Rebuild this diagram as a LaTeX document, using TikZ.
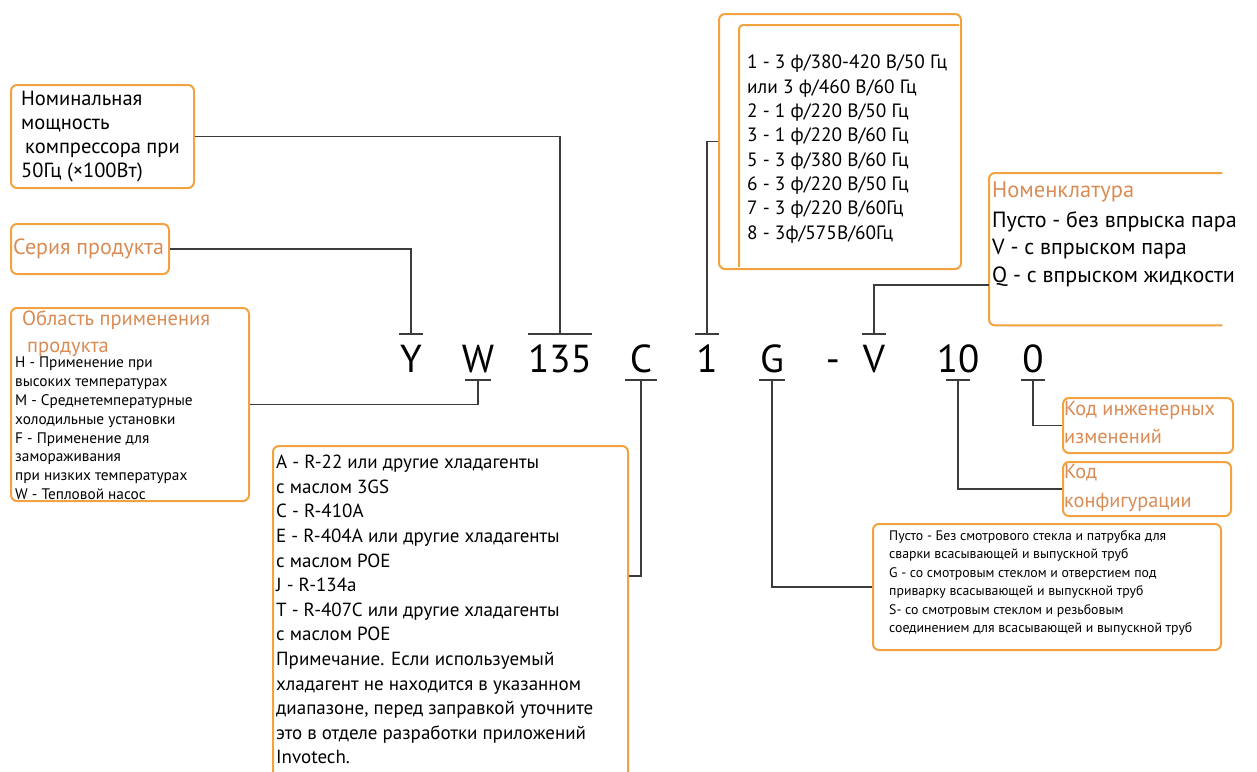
\documentclass[tikz,border=0pt]{standalone}
\usepackage{fontspec}
\setmainfont{PT Sans}
\usetikzlibrary{calc}
\definecolor{boxorange}{HTML}{F2A33F}
\definecolor{titleorange}{HTML}{D98C55}
\definecolor{wirecol}{HTML}{3C3C3C}
\begin{document}
\begin{tikzpicture}[x=1pt,y=-1pt,
  frame/.style={draw=boxorange, line width=2pt, rounded corners=6pt, fill=white, anchor=north west, inner sep=0pt},
  txt/.style={anchor=north west, inner sep=0pt, align=left},
  code/.style={font=\fontsize{39}{39}\selectfont, anchor=base, inner sep=0pt},
  wire/.style={draw=wirecol, line width=1.4pt},
  tickmark/.style={draw=wirecol, line width=1.6pt}]
\useasboundingbox (0,0) rectangle (1257,771);
\clip (0,0) rectangle (1257,771);

% the model code
\node[code] (cY) at (411,372) {Y};
\node[code] (cW) at (478,372) {W};
\node[code] (c135) at (560,372) {135};
\node[code] (cC) at (641,372) {C};
\node[code] (c1) at (707,372) {1};
\node[code] (cG) at (772,372) {G};
\node[code] (cdash) at (833,372) {-};
\node[code] (cV) at (874,372) {V};
\node[code] (c10) at (958,372) {10};
\node[code] (c0) at (1033,372) {0};

\coordinate (tY) at (cY |- 0,334);
\coordinate (t135) at (c135 |- 0,334);
\coordinate (t1) at (c1 |- 0,334);
\coordinate (tV) at (cV |- 0,334);
\coordinate (tW) at (cW |- 0,380);
\coordinate (tC) at (cC |- 0,380);
\coordinate (tG) at (cG |- 0,380);
\coordinate (t10) at (c10 |- 0,380);
\coordinate (t0) at (c0 |- 0,380);

% boxes on the left
\node[frame, minimum width=183, minimum height=103] (pw) at (10,84) {};
\node[txt, font=\fontsize{20.5}{24}\selectfont] (pwtext) at ($(pw.north west)+(11,7)$)
  {Номинальная\\мощность\\\hspace*{4pt}компрессора при\\50Гц (×100Вт)};

\node[frame, minimum width=158, minimum height=50] (ser) at (10,223) {};
\node[txt, anchor=west, text=titleorange, font=\fontsize{22}{24}\selectfont] (sertext) at ($(ser.west)+(3,0)$) {Серия продукта};

\node[frame, minimum width=238, minimum height=193] (area) at (10,307) {};
\node[txt, text=titleorange, font=\fontsize{20.5}{27}\selectfont] (areatitle) at ($(area.north west)+(12,3)$)
  {Область применения\\\hspace*{5pt}продукта};
\node[txt, font=\fontsize{15.3}{18.8}\selectfont] (areatext) at ($(area.north west)+(5,50)$)
  {H - Применение при\\высоких температурах\\M - Среднетемпературные\\холодильные установки\\F - Применение для\\замораживания\\при низких температурах\\W - Тепловой насос};

% refrigerant box
\node[frame, minimum width=355, minimum height=345] (refr) at (272,445) {};
\node[txt, font=\fontsize{19}{24.6}\selectfont] (refrtext) at ($(refr.north west)+(4,10)$)
  {A - R-22 или другие хладагенты\\с маслом 3GS\\C - R-410A\\E - R-404A или другие хладагенты\\с маслом POE\\J - R-134a\\T - R-407C или другие хладагенты\\с маслом POE\\Примечание. Если используемый\\хладагент не находится в указанном\\диапазоне, перед заправкой уточните\\это в отделе разработки приложений\\Invotech.};
\coordinate (refrjoin) at ($(refr.north east)+(0,131)$);

% voltage box
\node[frame, minimum width=242, minimum height=255] (volt) at (718,13) {};
\draw[boxorange, line width=2pt, rounded corners=4pt] ($(volt.north east)+(-3,12)$) -| ($(volt.south west)+(21,-3)$);
\node[txt, font=\fontsize{19.3}{24.3}\selectfont] (volttext) at ($(volt.north west)+(29,42)$)
  {1 - 3 ф/380-420 В/50 Гц\\или 3 ф/460 В/60 Гц\\2 - 1 ф/220 В/50 Гц\\3 - 1 ф/220 В/60 Гц\\5 - 3 ф/380 В/60 Гц\\6 - 3 ф/220 В/50 Гц\\7 - 3 ф/220 В/60Гц\\8 - 3ф/575В/60Гц};

% nomenclature box, open on the right
\node[anchor=north west, inner sep=0pt, minimum width=233, minimum height=152] (nom) at (989,173) {};
\draw[boxorange, line width=2pt, rounded corners=6pt] (nom.north east) -- (nom.north west) -- (nom.south west) -- (nom.south east);
\node[txt, text=titleorange, font=\fontsize{22.5}{28}\selectfont] (nomtitle) at ($(nom.north west)+(3,9)$) {Номенклатура};
\node[txt, font=\fontsize{22}{27.5}\selectfont] (nomtext) at ($(nom.north west)+(3,38)$)
  {Пусто - без впрыска пара\\V - с впрыском пара\\Q - с впрыском жидкости};
\coordinate (nomjoin) at ($(nom.north west)+(0,112)$);

% boxes on the right
\node[frame, minimum width=170, minimum height=55] (eng) at (1062,397) {};
\node[txt, text=titleorange, font=\fontsize{20.3}{28}\selectfont] (engtext) at ($(eng.north west)+(2,4)$) {Код инженерных\\изменений};

\node[frame, minimum width=168, minimum height=54] (cfg) at (1062,461) {};
\node[txt, text=titleorange, font=\fontsize{20.3}{29}\selectfont] (cfgtext) at ($(cfg.north west)+(2,3)$) {Код\\конфигурации};

\node[frame, minimum width=348, minimum height=126] (glass) at (872,523) {};
\node[txt, font=\fontsize{13.8}{18.5}\selectfont] (glasstext) at ($(glass.north west)+(17,7)$)
  {Пусто - Без смотрового стекла и патрубка для\\сварки всасывающей и выпускной труб\\G - со смотровым стеклом и отверстием под\\приварку всасывающей и выпускной труб\\S- со смотровым стеклом и резьбовым\\соединением для всасывающей и выпускной труб};

% connectors
\draw[wire] (pw.east) -| (t135);
\draw[wire] (ser.east) -| (tY);
\draw[wire] (area.east) -| (tW);
\draw[wire] (t1) |- (volt.west);
\draw[wire] (tV) |- (nomjoin);
\draw[wire] (tC) |- (refrjoin);
\draw[wire] (tG) |- (glass.west);
\draw[wire] (t10) |- (cfg.west);
\draw[wire] (t0) |- (eng.west);

\foreach \t/\w in {tY/12, t135/32, t1/12, tV/12, tW/13, tC/16, tG/13, t10/12, t0/12}
  \draw[tickmark] ($(\t)+(-\w,0)$) -- ($(\t)+(\w,0)$);

\end{tikzpicture}
\end{document}
